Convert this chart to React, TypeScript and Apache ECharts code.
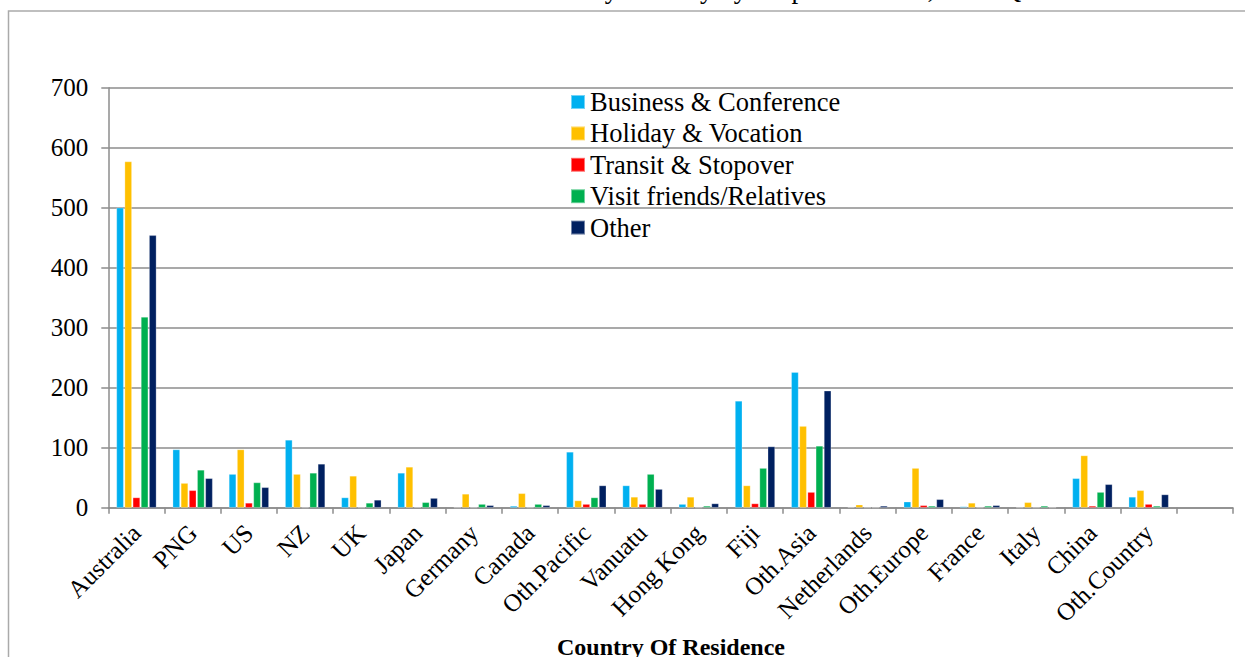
import React, { useEffect, useRef } from "react";
import * as echarts from "echarts";

const categories = [
  "Australia", "PNG", "US", "NZ", "UK", "Japan", "Germany", "Canada", "Oth.Pacific",
  "Vanuatu", "Hong Kong", "Fiji", "Oth.Asia", "Netherlands", "Oth.Europe", "France",
  "Italy", "China", "Oth.Country", "",
];
const seriesNames = [
  "Business & Conference",
  "Holiday & Vocation",
  "Transit & Stopover",
  "Visit friends/Relatives",
  "Other",
];
const business = [500, 97, 56, 113, 17, 58, 0, 3, 93, 37, 6, 178, 226, 1, 10, 2, 0, 49, 18, null];
const holiday = [577, 41, 97, 56, 53, 68, 23, 24, 12, 18, 18, 37, 136, 5, 66, 8, 9, 87, 29, null];
const transit = [17, 29, 8, 0, 0, 1, 0, 0, 6, 6, 0, 7, 26, 0, 4, 0, 0, 3, 6, null];
const visit = [318, 63, 42, 58, 8, 9, 6, 6, 17, 56, 3, 66, 103, 0, 3, 3, 3, 26, 3, null];
const other = [454, 49, 34, 73, 13, 16, 4, 4, 37, 31, 7, 102, 195, 3, 14, 4, 0, 39, 22, null];
const colors = ["#00B0F0", "#FFC000", "#FF0000", "#00B050", "#002060"];
const yTicks = { min: 0, max: 700, interval: 100 };
const titleText = "Visitor Arrivals by Country by Purpose of Visit, 2015 Q4";
const xAxisTitle = "Country Of Residence";

const FONT = "'Liberation Serif', 'Times New Roman', serif";

export default function App() {
  const ref = useRef<HTMLDivElement>(null);
  useEffect(() => {
    const chart = echarts.init(ref.current!, null, { renderer: "svg" });
    const allData = [business, holiday, transit, visit, other];
    chart.setOption({
      animation: false,
      backgroundColor: "#ffffff",
      color: colors,
      textStyle: { fontFamily: FONT, color: "#000" },
      grid: { left: 108.3, right: 12, top: 87.7, bottom: 149.3, containLabel: false },
      legend: {
        data: seriesNames,
        orient: "vertical",
        left: 570,
        top: 88.5,
        padding: 0,
        icon: "rect",
        itemWidth: 14,
        itemHeight: 14,
        itemGap: 4.4,
        textStyle: { fontFamily: FONT, fontSize: 26.5, color: "#000" },
      },
      xAxis: {
        type: "category",
        data: categories,
        boundaryGap: true,
        axisLine: { lineStyle: { color: "#8c8c8c", width: 1.5 } },
        axisTick: { show: true, length: 6, alignWithLabel: false, interval: 0, lineStyle: { color: "#8c8c8c", width: 1.5 } },
        axisLabel: {
          interval: 0,
          rotate: 45,
          margin: 21,
          fontFamily: FONT,
          fontSize: 25,
          color: "#000",
        },
        splitLine: { show: false },
      },
      yAxis: {
        type: "value",
        min: yTicks.min,
        max: yTicks.max,
        interval: yTicks.interval,
        axisLine: { show: true, lineStyle: { color: "#8c8c8c", width: 1.5 } },
        axisTick: { show: true, length: 7, lineStyle: { color: "#8c8c8c", width: 1.5 } },
        axisLabel: { margin: 20, fontFamily: FONT, fontSize: 25, color: "#000" },
        splitLine: { show: true, lineStyle: { color: "#8c8c8c", width: 1.5 } },
      },
      series: seriesNames.map((name, i) => ({
        name,
        type: "bar",
        data: allData[i],
        barWidth: 7.3,
        barGap: "12%",
        itemStyle: { color: colors[i], borderColor: "rgba(255,255,255,0.45)", borderWidth: 0.6 },
      })),
      graphic: [
        {
          type: "rect",
          silent: true,
          shape: { x: 8.5, y: 11, width: 1400, height: 800 },
          style: { fill: "none", stroke: "#aaaaaa", lineWidth: 1.5 },
          z: -1,
        },
        {
          type: "text",
          silent: true,
          x: 726,
          y: 2,
          style: {
            text: titleText,
            font: "27px " + FONT,
            fill: "#000",
            textAlign: "center",
            textVerticalAlign: "bottom",
          },
        },
        {
          type: "text",
          silent: true,
          x: 671,
          y: 635,
          style: {
            text: xAxisTitle,
            font: "bold 24px " + FONT,
            fill: "#000",
            textAlign: "center",
            textVerticalAlign: "top",
          },
        },
      ],
    });
    return () => chart.dispose();
  }, []);
  return (
    <div
      ref={ref}
      style={{ position: "absolute", left: 0, top: 0, width: 1245, height: 657 }}
    />
  );
}
